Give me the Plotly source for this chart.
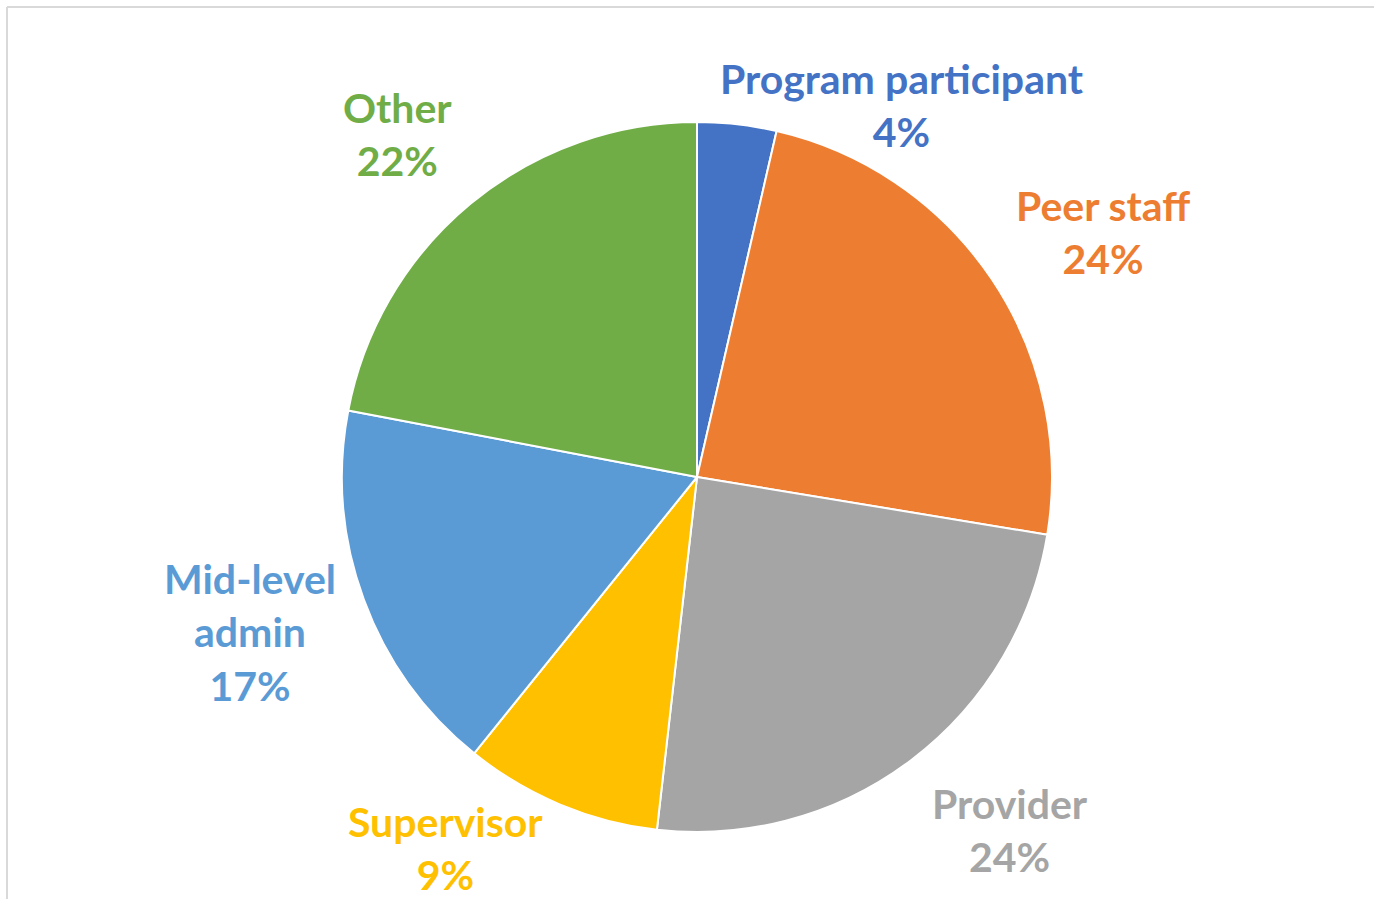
import plotly.graph_objects as go

# slice data, clockwise from 12 o'clock
roles = ['Program participant', 'Peer staff', 'Provider', 'Supervisor', 'Mid-level admin', 'Other']
shares = [3.6, 24.0, 24.2, 9.0, 17.2, 22.0]
label_text = ['Program participant', 'Peer staff', 'Provider', 'Supervisor', 'Mid-level<br>admin', 'Other']

colors = ['#4472C4', '#ED7D31', '#A5A5A5', '#FFC000', '#5B9BD5', '#70AD47']

W, H = 1374, 899
# label block centres in pixels (Excel "best fit" placement)
label_pos = [(902, 105), (1103, 232), (1010, 830), (445, 848), (250, 632), (397, 134)]

fig = go.Figure(go.Pie(
    labels=roles,
    values=shares,
    sort=False,
    direction='clockwise',
    rotation=0,
    textinfo='none',
    hoverinfo='label+percent',
    marker={'colors': colors, 'line': {'color': 'white', 'width': 2}},
    domain={'x': [342 / W, 1052 / W], 'y': [1 - 832 / H, 1 - 122 / H]},
    showlegend=False,
))

total = sum(shares)
for txt, v, col, (px_, py_) in zip(label_text, shares, colors, label_pos):
    fig.add_annotation(
        x=px_ / W, y=1 - py_ / H, xref='paper', yref='paper',
        text=f'{txt}<br>{round(v / total * 100)}%',
        showarrow=False, xanchor='center', yanchor='middle',
        font={'family': 'Lato', 'size': 41, 'color': col, 'weight': 'bold'},
    )

# thin frame lines on top and left edge
fig.add_shape(type='line', xref='paper', yref='paper', x0=7 / W, x1=1, y0=1 - 7 / H, y1=1 - 7 / H,
              line={'color': '#d9d9d9', 'width': 2})
fig.add_shape(type='line', xref='paper', yref='paper', x0=7 / W, x1=7 / W, y0=0, y1=1 - 7 / H,
              line={'color': '#d9d9d9', 'width': 2})

fig.update_layout(
    autosize=True,
    margin={'l': 0, 'r': 0, 't': 0, 'b': 0},
    paper_bgcolor='white',
    plot_bgcolor='white',
)

# drop the default page margin so the figure fills the whole window
fix_margin = (
    "document.body.style.margin='0';"
    "document.documentElement.style.margin='0';"
    "Plotly.Plots.resize(document.getElementById('{plot_id}'));"
)

fig.write_html('out.html', post_script=fix_margin, config={'displayModeBar': False})
